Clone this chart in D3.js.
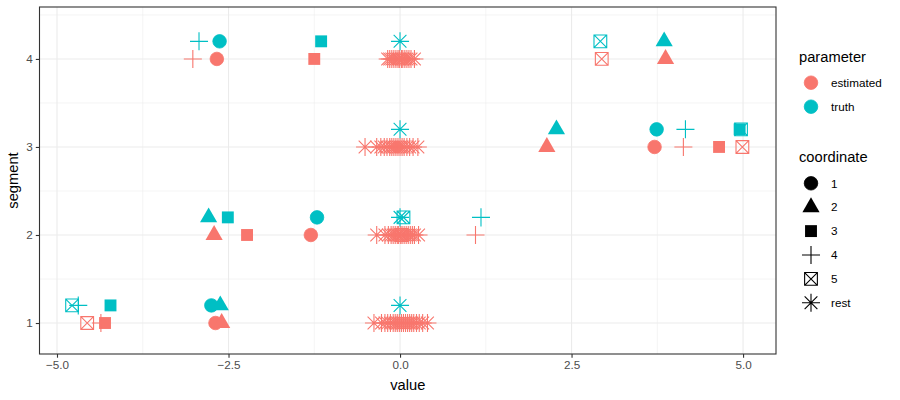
<!DOCTYPE html>
<html><head><meta charset="utf-8">
<script src="https://cdn.jsdelivr.net/npm/d3@7"></script>
<style>body{margin:0;background:#fff;} text{font-family:"Liberation Sans",Arial,sans-serif;}</style>
</head><body><svg id="c" width="900" height="400"></svg>
<script>
// ---- data ----
const segments = [1, 2, 3, 4];
const coordinates = ["1", "2", "3", "4", "5"];
const parameters = ["estimated", "truth"];
const parameterColors = ["#F8766D", "#00BFC4"];
const coordinateLegend = ["1", "2", "3", "4", "5", "rest"];
const xTicks = [-5, -2.5, 0, 2.5, 5];
const yTicks = [1, 2, 3, 4];
const truthOffset = 0.2;
// estimated values for coordinates 1..5, by segment
const estSeg1 = [-2.69, -2.60, -4.30, -4.36, -4.56];
const estSeg2 = [-1.30, -2.71, -2.23, 1.10, 0.02];
const estSeg3 = [3.71, 2.14, 4.65, 4.13, 4.99];
const estSeg4 = [-2.67, 3.87, -1.25, -3.02, 2.94];
// truth values for coordinates 1..5, by segment
const truthSeg1 = [-2.75, -2.62, -4.22, -4.69, -4.78];
const truthSeg2 = [-1.21, -2.79, -2.51, 1.18, 0.05];
const truthSeg3 = [3.74, 2.28, 4.95, 4.16, 4.97];
const truthSeg4 = [-2.63, 3.85, -1.15, -2.93, 2.92];
// "rest" coordinates (estimated); truth rest are all 0
const estRest1 = [-0.38, -0.27, -0.22, -0.18, -0.14, -0.10, -0.07, -0.04, -0.01, 0.02, 0.05, 0.08, 0.11, 0.14, 0.17, 0.20, 0.24, 0.28, 0.33, 0.40];
const estRest2 = [-0.34, -0.22, -0.17, -0.13, -0.10, -0.07, -0.04, -0.02, 0.01, 0.03, 0.06, 0.09, 0.12, 0.15, 0.18, 0.21, 0.27];
const estRest3 = [-0.51, -0.34, -0.28, -0.23, -0.19, -0.15, -0.12, -0.09, -0.06, -0.03, 0.00, 0.03, 0.06, 0.10, 0.14, 0.19, 0.26];
const estRest4 = [-0.18, -0.15, -0.12, -0.09, -0.06, -0.03, -0.01, 0.02, 0.04, 0.07, 0.10, 0.13, 0.16, 0.21];
const truthRest = [0, 0, 0, 0];

const estBySeg = [estSeg1, estSeg2, estSeg3, estSeg4];
const truthBySeg = [truthSeg1, truthSeg2, truthSeg3, truthSeg4];
const restBySeg = [estRest1, estRest2, estRest3, estRest4];

// build rows (coordinate 5 drawn before 3 so the filled square sits on top)
const drawOrder = [4, 0, 1, 2, 3];
const rows = [];
segments.forEach((s, i) => {
  restBySeg[i].forEach(v => rows.push({segment: s, parameter: "estimated", coordinate: "rest", value: v}));
  drawOrder.forEach(j => rows.push({segment: s, parameter: "estimated", coordinate: coordinates[j], value: estBySeg[i][j]}));
});
segments.forEach((s, i) => {
  rows.push({segment: s, parameter: "truth", coordinate: "rest", value: truthRest[i]});
  drawOrder.forEach(j => rows.push({segment: s, parameter: "truth", coordinate: coordinates[j], value: truthBySeg[i][j]}));
});

// ---- layout ----
const P = {l: 39.5, r: 776, t: 7, b: 354};
const svg = d3.select("#c");
const x = d3.scaleLinear().domain([-5.255, 5.48]).range([P.l, P.r]);
const y = d3.scaleLinear().domain([0.648, 4.59]).range([P.b, P.t]);
const color = d3.scaleOrdinal().domain(parameters).range(parameterColors);

// panel background + grid
svg.append("rect").attr("x", P.l).attr("y", P.t).attr("width", P.r - P.l).attr("height", P.b - P.t).attr("fill", "#fff");
const g = svg.append("g");
const xMinor = [-3.75, -1.25, 1.25, 3.75];
const yMinor = [1.5, 2.5, 3.5, 4.5];
g.selectAll(".xm").data(xMinor).join("line").attr("x1", d => x(d)).attr("x2", d => x(d)).attr("y1", P.t).attr("y2", P.b).attr("stroke", "#EBEBEB").attr("stroke-width", 0.55);
g.selectAll(".ym").data(yMinor).join("line").attr("y1", d => y(d)).attr("y2", d => y(d)).attr("x1", P.l).attr("x2", P.r).attr("stroke", "#EBEBEB").attr("stroke-width", 0.55);
g.selectAll(".xg").data(xTicks).join("line").attr("x1", d => x(d)).attr("x2", d => x(d)).attr("y1", P.t).attr("y2", P.b).attr("stroke", "#EBEBEB").attr("stroke-width", 1.1);
g.selectAll(".yg").data(yTicks).join("line").attr("y1", d => y(d)).attr("y2", d => y(d)).attr("x1", P.l).attr("x2", P.r).attr("stroke", "#EBEBEB").attr("stroke-width", 1.1);

// ---- shapes ----
const F = 17;
function shapePath(c) {
  const p = d3.path();
  if (c === "1") { const r = 0.375 * F + 0.4; p.moveTo(r, 0); p.arc(0, 0, r, 0, 2 * Math.PI); }
  else if (c === "2") { const xc = 0.375 * F, T0 = 1.5551203, rr = T0 * xc, yc = rr / 2, hx = T0 * Math.sqrt(3) / 2 * xc;
    p.moveTo(0, -rr); p.lineTo(hx, yc); p.lineTo(-hx, yc); p.closePath(); }
  else if (c === "3") { const h = 0.375 * F * 0.8862 + 0.3; p.rect(-h, -h, 2 * h, 2 * h); }
  else if (c === "4") { const h = Math.SQRT2 * 0.375 * F; p.moveTo(-h, 0); p.lineTo(h, 0); p.moveTo(0, -h); p.lineTo(0, h); }
  else if (c === "5") { const h = 0.375 * F; p.rect(-h, -h, 2 * h, 2 * h); p.moveTo(-h, -h); p.lineTo(h, h); p.moveTo(-h, h); p.lineTo(h, -h); }
  else { const h = Math.SQRT2 * 0.375 * F, d = 0.375 * F; p.moveTo(-h, 0); p.lineTo(h, 0); p.moveTo(0, -h); p.lineTo(0, h);
    p.moveTo(-d, -d); p.lineTo(d, d); p.moveTo(-d, d); p.lineTo(d, -d); }
  return p.toString();
}
const filled = c => c === "1" || c === "2" || c === "3";
function styleShape(sel, col) {
  sel.attr("d", d => shapePath(d.coordinate))
    .attr("fill", d => filled(d.coordinate) ? col(d) : "none")
    .attr("stroke", d => col(d))
    .attr("stroke-width", d => filled(d.coordinate) ? (d.coordinate === "1" ? 0.8 : 0) : 1.1);
}

const pts = svg.append("g").selectAll("path").data(rows).join("path")
  .attr("transform", d => `translate(${x(d.value)},${y(d.segment + (d.parameter === "truth" ? truthOffset : 0))})`);
styleShape(pts, d => color(d.parameter));

// panel border
svg.append("rect").attr("x", P.l).attr("y", P.t).attr("width", P.r - P.l).attr("height", P.b - P.t)
  .attr("fill", "none").attr("stroke", "#333333").attr("stroke-width", 1.1);

// ---- axes ----
const xAxis = svg.append("g").attr("transform", `translate(0,${P.b})`)
  .call(d3.axisBottom(x).tickValues(xTicks).tickFormat(d3.format(".1f")).tickSize(3.7).tickPadding(3));
const yAxis = svg.append("g").attr("transform", `translate(${P.l},0)`)
  .call(d3.axisLeft(y).tickValues(yTicks).tickFormat(d3.format("d")).tickSize(3.7).tickPadding(3));
[xAxis, yAxis].forEach(a => {
  a.select(".domain").remove();
  a.selectAll(".tick line").attr("stroke", "#333333").attr("stroke-width", 1.1);
  a.selectAll(".tick text").attr("fill", "#4D4D4D").style("font-size", "11.7px").style("font-family", '"Liberation Sans",Arial,sans-serif');
});

svg.append("text").attr("x", (P.l + P.r) / 2).attr("y", 390).attr("text-anchor", "middle")
  .style("font-size", "14.7px").attr("fill", "#000").text("value");
svg.append("text").attr("transform", `translate(18,${(P.t + P.b) / 2}) rotate(-90)`).attr("text-anchor", "middle")
  .style("font-size", "14.7px").attr("fill", "#000").text("segment");

// ---- legends ----
const LX = 799, KX = 811, TX = 831;
svg.append("text").attr("x", LX).attr("y", 62).style("font-size", "14.7px").text("parameter");
const lp = svg.append("g").selectAll("g").data(parameters).join("g")
  .attr("transform", (d, i) => `translate(0,${82.7 + i * 24})`);
lp.append("path").attr("transform", `translate(${KX},0)`).datum(d => ({coordinate: "1", parameter: d}))
  .call(s => styleShape(s, d => color(d.parameter)));
lp.append("text").attr("x", TX).attr("y", 4.2).style("font-size", "11.7px").text(d => d);

svg.append("text").attr("x", LX).attr("y", 162).style("font-size", "14.7px").text("coordinate");
const lc = svg.append("g").selectAll("g").data(coordinateLegend).join("g")
  .attr("transform", (d, i) => `translate(0,${183.3 + i * 23.9})`);
lc.append("path").attr("transform", `translate(${KX},0)`).datum(d => ({coordinate: d}))
  .call(s => styleShape(s, () => "#000"));
lc.append("text").attr("x", TX).attr("y", 4.2).style("font-size", "11.7px").text(d => d);
</script>
</body></html>
